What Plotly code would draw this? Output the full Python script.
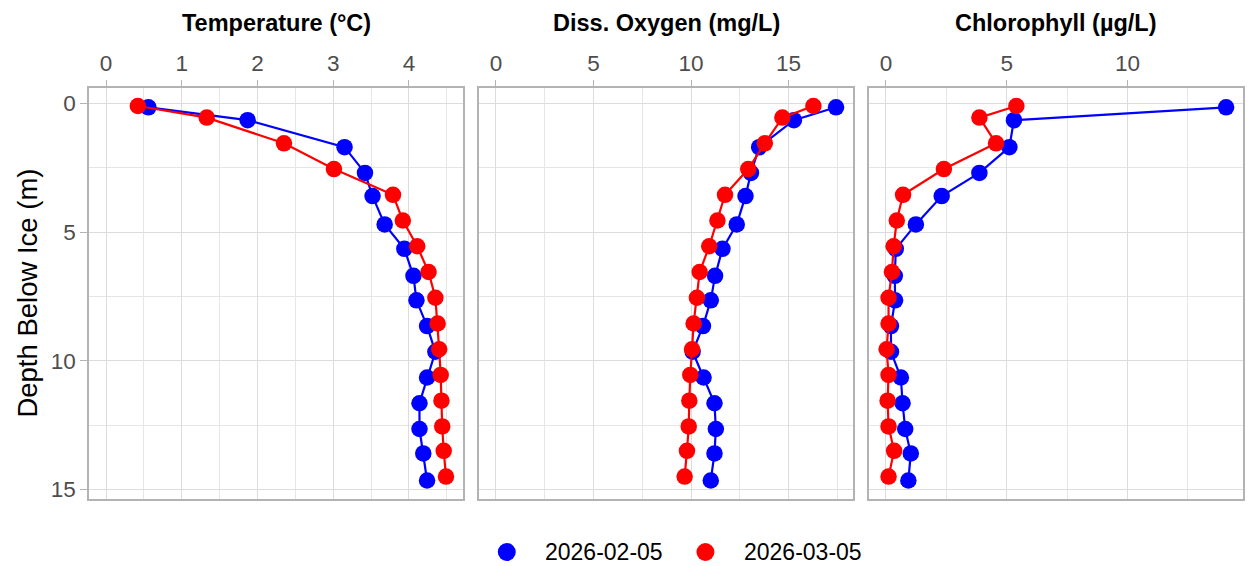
import plotly.graph_objects as go

# ---- data ----
depth_feb = [0.15, 0.65, 1.7, 2.7, 3.6, 4.7, 5.65, 6.7, 7.65, 8.65, 9.65, 10.65, 11.65, 12.65, 13.6, 14.65]
depth_mar = [0.1, 0.55, 1.55, 2.55, 3.55, 4.55, 5.55, 6.55, 7.55, 8.55, 9.55, 10.55, 11.55, 12.55, 13.5, 14.5]

temp_feb = [0.56, 1.87, 3.15, 3.42, 3.52, 3.68, 3.94, 4.06, 4.10, 4.24, 4.35, 4.24, 4.14, 4.14, 4.19, 4.24]
temp_mar = [0.42, 1.33, 2.35, 3.01, 3.79, 3.92, 4.11, 4.26, 4.35, 4.38, 4.40, 4.42, 4.43, 4.44, 4.46, 4.49]

do_feb = [17.43, 15.27, 13.49, 13.07, 12.79, 12.34, 11.61, 11.23, 11.01, 10.61, 10.08, 10.64, 11.20, 11.27, 11.20, 11.01]
do_mar = [16.27, 14.68, 13.78, 12.93, 11.74, 11.35, 10.93, 10.44, 10.30, 10.13, 10.05, 9.96, 9.91, 9.88, 9.79, 9.67]

chl_feb = [14.08, 5.30, 5.11, 3.87, 2.31, 1.24, 0.41, 0.37, 0.38, 0.21, 0.21, 0.62, 0.69, 0.80, 1.03, 0.93]
chl_mar = [5.40, 3.87, 4.56, 2.40, 0.71, 0.45, 0.32, 0.25, 0.11, 0.11, 0.03, 0.11, 0.07, 0.11, 0.34, 0.11]

panel_titles = ["Temperature (°C)", "Diss. Oxygen (mg/L)", "Chlorophyll (µg/L)"]
y_title = "Depth Below Ice (m)"
series_names = ["2026-02-05", "2026-03-05"]
series_colors = ["#0000FF", "#FF0000"]
x_ranges = [[-0.225, 4.715], [-0.87, 18.30], [-0.70, 14.78]]
x_dticks = [1, 5, 5]
y_range = [15.37, -0.6]
y_dtick = 5

panels = [(temp_feb, temp_mar), (do_feb, do_mar), (chl_feb, chl_mar)]
depths = [depth_feb, depth_mar]

FONT = "Liberation Sans, Arial, sans-serif"
fig = go.Figure()

W, H = 1248, 566
ml, mr, mt, mb = 89, 3, 88, 67
pw = W - ml - mr
ph = H - mt - mb
gap = 16
panel_w = (pw - 2 * gap) / 3

grid_major = "#DCDCDC"
grid_minor = "#E6E6E6"
border = "#B3B3B3"
tick_font = dict(family=FONT, size=22.5, color="#4D4D4D")

for i, (xf, xm) in enumerate(panels):
    xa = "x" if i == 0 else f"x{i+1}"
    ya = "y" if i == 0 else f"y{i+1}"
    for s, xs in enumerate([xf, xm]):
        fig.add_trace(go.Scatter(
            x=xs, y=depths[s], mode="lines+markers",
            line=dict(color=series_colors[s], width=2.2),
            marker=dict(color=series_colors[s], size=16.5),
            xaxis=xa, yaxis=ya, showlegend=False, hoverinfo="skip",
        ))
    d0 = (i * (panel_w + gap)) / pw
    d1 = (i * (panel_w + gap) + panel_w) / pw
    xkey = "xaxis" if i == 0 else f"xaxis{i+1}"
    ykey = "yaxis" if i == 0 else f"yaxis{i+1}"
    fig.layout[xkey] = dict(
        domain=[d0, d1], range=x_ranges[i], side="top", anchor=ya,
        dtick=x_dticks[i], tick0=0, showgrid=True, gridcolor=grid_major, gridwidth=1,
        minor=dict(dtick=x_dticks[i] / 2, tick0=0, showgrid=True, gridcolor=grid_minor, gridwidth=1),
        showline=True, linecolor=border, linewidth=1.5, mirror=True,
        ticks="outside", ticklen=6, tickcolor=border, tickwidth=1,
        tickfont=tick_font, zeroline=False,
    )
    fig.layout[ykey] = dict(
        domain=[0, 1], range=y_range, anchor=xa,
        dtick=y_dtick, tick0=0, showgrid=True, gridcolor=grid_major, gridwidth=1,
        minor=dict(dtick=y_dtick / 2, tick0=0, showgrid=True, gridcolor=grid_minor, gridwidth=1),
        showline=True, linecolor=border, linewidth=1.5, mirror=True,
        ticks="outside" if i == 0 else "", ticklen=7, tickcolor=border, tickwidth=1,
        showticklabels=(i == 0), tickfont=tick_font, zeroline=False,
        matches=None if i == 0 else "y",
    )
    fig.add_annotation(
        text=f"<b>{panel_titles[i]}</b>", xref="paper", yref="paper",
        x=(d0 + d1) / 2, y=1 + 65 / ph, xanchor="center", yanchor="middle",
        showarrow=False, font=dict(family=FONT, size=23.5, color="black"),
    )

# y-axis title
fig.add_annotation(
    text=y_title, xref="paper", yref="paper", x=(27 - ml) / pw, y=0.5,
    xanchor="center", yanchor="middle", textangle=-90, showarrow=False,
    font=dict(family=FONT, size=27.5, color="black"),
)

# legend drawn as key circles + labels below the panels
legend_marker_px = [507.5, 706.5]
legend_text_px = [544, 743]
legend_y_px = 552
rad = 9
for s in range(2):
    cx = (legend_marker_px[s] - ml) / pw
    cy = (H - mb - legend_y_px) / ph
    fig.add_shape(type="circle", xref="paper", yref="paper",
                  x0=cx - rad / pw, x1=cx + rad / pw, y0=cy - rad / ph, y1=cy + rad / ph,
                  fillcolor=series_colors[s], line=dict(width=0))
    fig.add_annotation(text=series_names[s], xref="paper", yref="paper",
                       x=(legend_text_px[s] - ml) / pw, y=cy, xanchor="left", yanchor="middle",
                       showarrow=False, font=dict(family=FONT, size=23, color="black"))

fig.update_layout(
    width=W, height=H, margin=dict(l=ml, r=mr, t=mt, b=mb),
    plot_bgcolor="white", paper_bgcolor="white", showlegend=False,
    font=dict(family=FONT),
)

fig.write_html("out.html")
